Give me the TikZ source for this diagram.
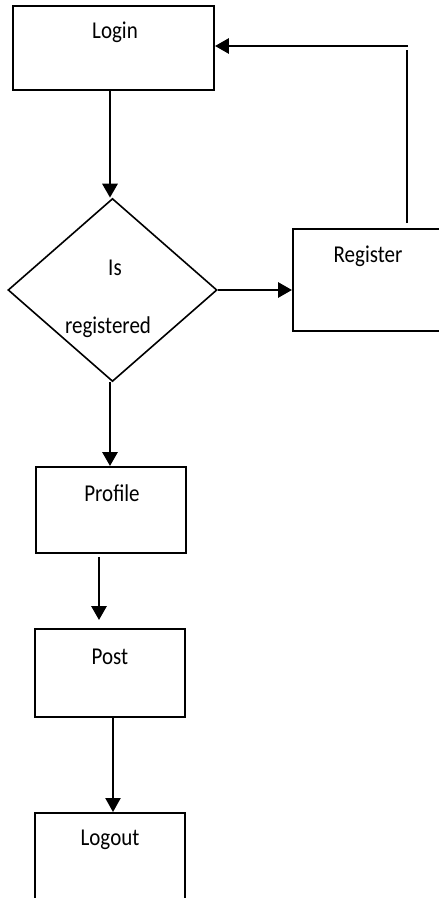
\documentclass[tikz,border=0pt]{standalone}
\usepackage{fontspec}
\setmainfont{Carlito}
\usetikzlibrary{arrows.meta,shapes.geometric}
\newcommand\talltxt[1]{\scalebox{1}[1.15]{#1}}
\begin{document}
\begin{tikzpicture}[x=1pt,y=-1pt,
  box/.style={draw=black,line width=1.9pt,rectangle,inner sep=0pt},
  dia/.style={draw=black,line width=1.6pt,diamond,inner sep=0pt},
  txt/.style={font=\fontsize{21}{25}\selectfont,inner sep=0pt,anchor=center},
  arr/.style={line width=2.9pt,-{Triangle[length=14pt,width=15pt]}},
  thin arr/.style={line width=2.1pt,-{Triangle[length=14pt,width=15pt]}}]
\useasboundingbox (0,0) rectangle (439,898);
\clip (0,0) rectangle (439,898);
% boxes
\node[box,minimum width=201pt,minimum height=84pt] (login) at (113.5,48) {};
\node[txt] (tlogin) at (115,32) {\talltxt{Login}};
\node[dia,minimum width=209pt,minimum height=183pt] (isreg) at (112.5,290) {};
\node[txt] (tis) at (115,268) {\talltxt{Is}};
\node[txt] (treg) at (108,327) {\talltxt{registered}};
\node[box,minimum width=170pt,minimum height=102pt] (reg) at (378,280) {};
\node[txt] (tregister) at (368,256) {\talltxt{Register}};
\node[box,minimum width=150pt,minimum height=86pt] (profile) at (111,510) {};
\node[txt] (tprofile) at (112,493) {\talltxt{Profile}};
\node[box,minimum width=150pt,minimum height=88pt] (post) at (110,673) {};
\node[txt] (tpost) at (110,657) {\talltxt{Post}};
\node[box,minimum width=150pt,minimum height=150pt] (logout) at (110,888) {};
\node[txt] (tlogout) at (110,840) {\talltxt{Logout}};
% connectors
\draw[arr] ([xshift=-3.5pt]login.south) -- ([xshift=-2.5pt]isreg.north);
\draw[arr] (isreg.east) -- (isreg.east -| reg.west);
\coordinate (rtop) at (407,223);
\coordinate (rcorner) at (408,46);
\draw[line width=1.9pt] (rtop) -- (rtop |- 0,50);
\draw[arr] (rcorner) -- (rcorner -| login.east);
\draw[arr] ([xshift=-2.5pt]isreg.south) -- ([xshift=-1pt]profile.north);
\draw[arr,shorten <=3pt,shorten >=8pt] ([xshift=-12pt]profile.south) -- ([xshift=-11pt]post.north);
\draw[thin arr] ([xshift=3pt]post.south) -- ([xshift=3pt]logout.north);
\end{tikzpicture}
\end{document}
